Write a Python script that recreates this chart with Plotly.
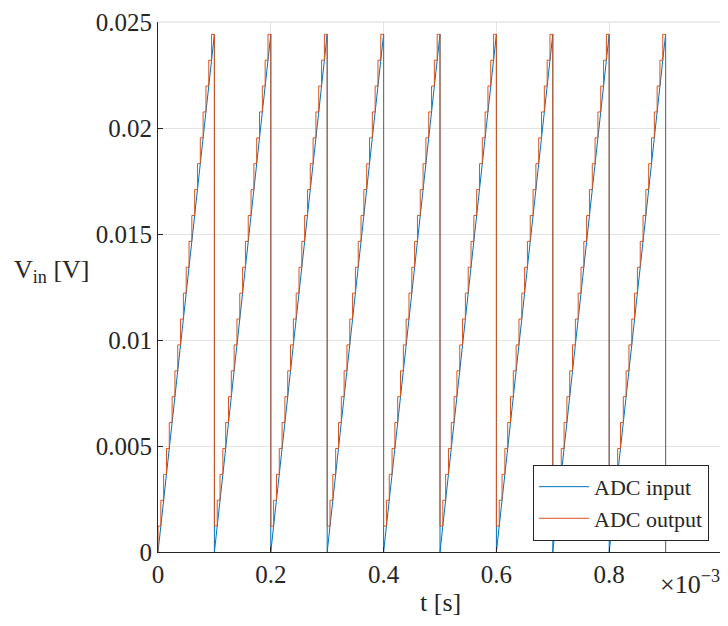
import plotly.graph_objects as go

# ---- data ----
tooth_starts = [0.0, 0.1e-3, 0.2e-3, 0.3e-3, 0.4e-3, 0.5e-3, 0.6e-3, 0.7e-3, 0.8e-3]
period = 0.1e-3
sample_interval = 5e-6
ramp_peak = 0.02442
step_levels = [0.001221, 0.002442, 0.003663, 0.004884, 0.006105,
               0.007326, 0.008547, 0.009768, 0.010989, 0.01221,
               0.013431, 0.014652, 0.015873, 0.017094, 0.018315,
               0.019536, 0.020757, 0.021978, 0.023199, 0.02442]
x_tick_vals = [0, 0.2e-3, 0.4e-3, 0.6e-3, 0.8e-3, 1e-3]
x_tick_text = ["0", "0.2", "0.4", "0.6", "0.8", "1"]
y_tick_vals = [0, 0.005, 0.01, 0.015, 0.02, 0.025]
y_tick_text = ["0", "0.005", "0.01", "0.015", "0.02", "0.025"]

# ADC input: linear ramps
xin, yin = [], []
for s in tooth_starts:
    xin += [s, s + period]
    yin += [0.0, ramp_peak]
xin.append(tooth_starts[-1] + period)
yin.append(0.0)

# ADC output: zero-order-hold staircase
xout, yout = [0.0], [0.0]
for s in tooth_starts:
    for k, lv in enumerate(step_levels):
        xout.append(s + k * sample_interval)
        yout.append(lv)
xout.append(tooth_starts[-1] + period)
yout.append(0.0)

BLUE = "#0072BD"
ORANGE = "#D95319"
FONT = "Liberation Serif"

fig = go.Figure()
fig.add_trace(go.Scatter(x=xin, y=yin, mode="lines", name="ADC input",
                         line=dict(color=BLUE, width=1.0)))
fig.add_trace(go.Scatter(x=xout, y=yout, mode="lines", name="ADC output",
                         line=dict(color=ORANGE, width=1.0, shape="hv")))

axis_common = dict(showgrid=True, gridcolor="#e3e3e3", gridwidth=1,
                   showline=True, linecolor="#262626", linewidth=1,
                   ticks="inside", ticklen=5, tickcolor="#262626",
                   zeroline=False, automargin=False,
                   tickfont=dict(family=FONT, size=25, color="#262626"))

fig.update_xaxes(range=[0, 1e-3], tickvals=x_tick_vals, ticktext=x_tick_text, **axis_common)
fig.update_yaxes(range=[0, 0.025], tickvals=y_tick_vals, ticktext=y_tick_text, **axis_common)

# page body has an 8px margin, so the figure is 8px smaller and margins shifted
fig.update_layout(
    width=720, height=618,
    margin=dict(l=150, r=6, t=14, b=74, autoexpand=False),
    paper_bgcolor="white", plot_bgcolor="white",
    showlegend=True,
    legend=dict(x=0.977, y=0.021, xanchor="right", yanchor="bottom",
                bgcolor="white", bordercolor="#262626", borderwidth=1,
                font=dict(family=FONT, size=22, color="#262626"),
                tracegroupgap=0, itemwidth=50),
    shapes=[
        dict(type="line", xref="paper", yref="paper", x0=0, x1=1, y0=1, y1=1,
             line=dict(color="#d9d9d9", width=1)),
        dict(type="line", xref="paper", yref="paper", x0=1, x1=1, y0=0, y1=1,
             line=dict(color="#d9d9d9", width=1)),
    ],
    annotations=[
        dict(text="t [s]", xref="paper", yref="paper", x=0.5, y=-0.095,
             xanchor="center", yanchor="middle", showarrow=False,
             font=dict(family=FONT, size=26, color="#262626")),
        dict(text="×10<sup>−3</sup>", xref="paper", yref="paper", x=1.0, y=-0.022,
             xanchor="right", yanchor="top", showarrow=False,
             font=dict(family=FONT, size=26, color="#262626")),
        dict(text="V<sub>in</sub> [V]", xref="paper", yref="paper", x=-0.258, y=0.53,
             xanchor="left", yanchor="middle", showarrow=False,
             font=dict(family=FONT, size=26, color="#262626")),
    ],
)

fig.write_html("out.html")
